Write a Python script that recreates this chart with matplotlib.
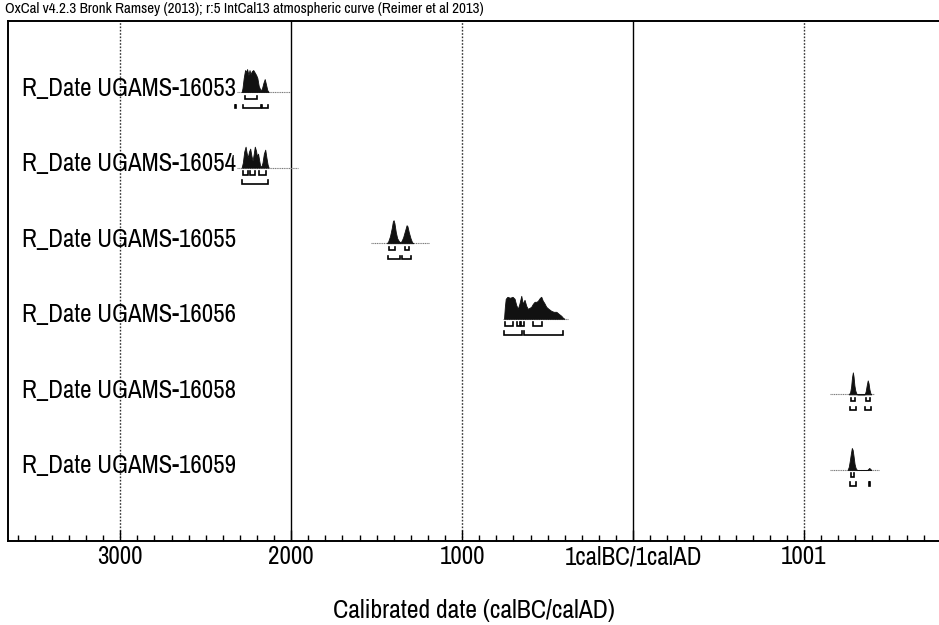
import matplotlib
matplotlib.use("Agg")
import matplotlib.pyplot as plt
import numpy as np

plt.rcParams['font.family'] = ['Archivo Narrow', 'Liberation Sans', 'DejaVu Sans']

labels = ["R_Date UGAMS-16053", "R_Date UGAMS-16054", "R_Date UGAMS-16055",
          "R_Date UGAMS-16056", "R_Date UGAMS-16058", "R_Date UGAMS-16059"]

# calendar years (negative = BC), relative probability (arbitrary units)
yr_16053 = [-2290, -2285, -2278, -2270, -2265, -2258, -2250, -2244, -2238, -2230, -2222,
            -2215, -2205, -2198, -2190, -2180, -2172, -2163, -2155, -2148, -2140, -2132]
p_16053 = [0, 4, 14, 22, 20, 23, 17, 22, 18, 21, 22, 20, 17, 14, 6, 2, 3, 9, 13, 8, 2, 0]

yr_16054 = [-2290, -2283, -2275, -2267, -2260, -2254, -2247, -2240, -2233, -2226, -2220, -2213,
            -2206, -2200, -2194, -2188, -2182, -2175, -2168, -2160, -2152, -2145, -2138, -2132]
p_16054 = [0, 5, 16, 21, 14, 10, 16, 19, 12, 7, 13, 21, 17, 11, 14, 8, 2, 1, 5, 14, 18, 10, 3, 0]

yr_16055 = [-1440, -1432, -1422, -1412, -1405, -1401, -1396, -1388, -1380, -1370, -1362,
            -1355, -1345, -1335, -1325, -1320, -1312, -1302, -1293, -1285]
p_16055 = [0, 2, 7, 15, 22, 23, 20, 11, 5, 2, 1, 2, 6, 12, 18, 17, 11, 5, 1, 0]

yr_16056 = [-755, -750, -745, -735, -720, -705, -693, -684, -674, -665, -654, -645, -635, -625,
            -616, -605, -596, -586, -576, -565, -557, -545, -537, -528, -520, -508, -495, -479,
            -465, -449, -435, -420, -410, -401]
p_16056 = [0, 12, 20, 22, 21, 22, 20, 14, 10, 15, 23, 15, 19, 13, 10, 11, 12, 15, 17, 17, 18,
           21, 22, 18, 16, 12, 10, 8, 7, 7, 5, 3, 1, 0]

yr_16058 = [1262, 1270, 1276, 1281, 1286, 1290, 1295, 1300, 1306, 1312,
            1355, 1361, 1367, 1373, 1378, 1383, 1389, 1394]
p_16058 = [0, 2, 8, 17, 22, 18, 9, 4, 1, 0, 0, 3, 9, 14, 11, 5, 1, 0]

yr_16059 = [1255, 1262, 1268, 1274, 1280, 1285, 1290, 1296, 1302, 1310, 1370, 1376, 1382, 1388, 1394]
p_16059 = [0, 3, 9, 16, 22, 20, 14, 6, 2, 0, 0, 1, 2, 1, 0]

years = [yr_16053, yr_16054, yr_16055, yr_16056, yr_16058, yr_16059]
probs = [p_16053, p_16054, p_16055, p_16056, p_16058, p_16059]

# 68.2% and 95.4% highest posterior density ranges
hpd68 = [
    [(-2270, -2200)],
    [(-2283, -2254), (-2244, -2209), (-2186, -2147)],
    [(-1429, -1390), (-1337, -1308)],
    [(-752, -700), (-680, -662), (-658, -640), (-586, -535)],
    [(1277, 1296), (1365, 1384)],
    [(1273, 1294)],
]
hpd95 = [
    [(-2330, -2322), (-2285, -2175), (-2170, -2133)],
    [(-2290, -2135)],
    [(-1435, -1366), (-1353, -1298)],
    [(-755, -650), (-640, -410)],
    [(1271, 1306), (1359, 1390)],
    [(1267, 1302), (1380, 1388)],
]

# extent of the thin baseline under each distribution
line_start = [-2320, -2320, -1532, -762, 1151, 1151]
line_end = [-2010, -1962, -1191, -382, 1412, 1441]

major_ticks = [-3000, -2000, -1000, 0, 1000]
major_labels = ["3000", "2000", "1000", "1calBC/1calAD", "1001"]

# ---- figure ----
fig = plt.figure(figsize=(9.39, 6.25), dpi=100)
W, H = 939, 625
ax = fig.add_axes([8 / W, (H - 541) / H, 1 - 8 / W, (541 - 21) / H])

row_px = 75.6
scale = 1 / row_px
ax.set_xlim(-3657, 1790)
ax.set_ylim(5.94, -0.94)

# vertical reference lines
for t in major_ticks:
    if t in (-2000, 0):
        ax.axvline(t, color='black', lw=1.0, zorder=1)
    else:
        ax.axvline(t, color='#333333', lw=1.0, ls=(0, (1.2, 1.2)), zorder=1)

for i in range(len(labels)):
    base = i
    ax.plot([line_start[i], line_end[i]], [base, base], color='#7a7a7a', lw=0.8,
            ls=(0, (1, 0.6)), zorder=2)
    y = base - np.array(probs[i]) * scale
    ax.fill_between(years[i], base, y, color='#111111', lw=0.6, edgecolor='#111111', zorder=3)

    for ranges, off in ((hpd68[i], 7), (hpd95[i], 16)):
        yb = base + off * scale
        ye = yb - 3.5 * scale
        for a, b in ranges:
            ax.plot([a, a, b, b], [ye, yb, yb, ye], color='black', lw=1.2,
                    solid_joinstyle='miter', zorder=3)

    ax.text(0.015, base - 4 * scale, labels[i], transform=ax.get_yaxis_transform(),
            fontsize=18, va='center', ha='left', color='black', zorder=4)

# axes styling
ax.spines['right'].set_visible(False)
for s in ('left', 'top', 'bottom'):
    ax.spines[s].set_linewidth(1.4)
    ax.spines[s].set_color('black')
ax.set_yticks([])
ax.set_xticks(major_ticks)
ax.set_xticklabels(major_labels, fontsize=18)
ax.set_xticks(np.arange(-3600, 1800, 100), minor=True)
ax.tick_params(axis='x', which='major', direction='in', length=8, width=1.0, pad=3)
ax.tick_params(axis='x', which='minor', direction='in', length=4, width=1.0)
ax.set_xlabel("Calibrated date (calBC/calAD)", fontsize=18.5, labelpad=22)

fig.text(5 / W, 1 - 2 / H,
         "OxCal v4.2.3 Bronk Ramsey (2013); r:5 IntCal13 atmospheric curve (Reimer et al 2013)",
         fontsize=10.8, va='top', ha='left')

fig.savefig("out.png", dpi=100)
